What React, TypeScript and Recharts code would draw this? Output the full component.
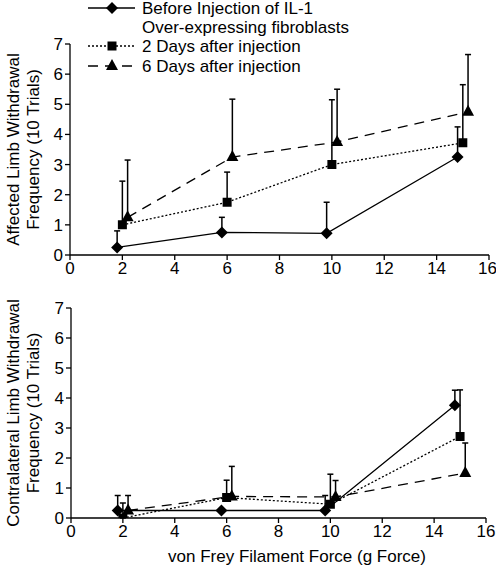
import { LineChart, Line, XAxis, YAxis, ErrorBar } from "recharts";

// x positions (g force), each series is offset a bit so the bars don't overlap
const forceBefore = [1.8, 5.8, 9.8, 14.8];
const force2Days = [2, 6, 10, 15];
const force6Days = [2.2, 6.2, 10.2, 15.2];

// affected limb: means and upper SD
const affectedBefore = [0.25, 0.75, 0.72, 3.25];
const affectedBeforeSd = [0.55, 0.5, 1.03, 1.0];
const affected2Days = [1.0, 1.75, 3.0, 3.72];
const affected2DaysSd = [1.45, 1.0, 2.15, 1.93];
const affected6Days = [1.25, 3.25, 3.75, 4.75];
const affected6DaysSd = [1.9, 1.92, 1.75, 1.9];

// contralateral limb
const contraBefore = [0.25, 0.25, 0.25, 3.76];
const contraBeforeSd = [0.5, 0, 0.5, 0.5];
const contra2Days = [0.0, 0.68, 0.46, 2.72];
const contra2DaysSd = [0.5, 0.58, 1.0, 1.55];
const contra6Days = [0.25, 0.72, 0.7, 1.5];
const contra6DaysSd = [0.5, 1.0, 0.55, 1.0];

const xTicks = [0, 2, 4, 6, 8, 10, 12, 14, 16];
const yTicks = [0, 1, 2, 3, 4, 5, 6, 7];

const legendLabels = [
  "Before Injection of IL-1",
  "Over-expressing fibroblasts",
  "2 Days after injection",
  "6 Days after injection",
];

const FONT = "'Liberation Sans', Arial, sans-serif";

const toRows = (xs: number[], ys: number[], sd: number[]) =>
  xs.map((x, i) => ({ x, y: ys[i], err: [0, sd[i]] }));

type Shape = "diamond" | "square" | "triangle";

const markerPath = (shape: Shape, cx: number, cy: number) => {
  if (shape === "diamond") {
    return `M${cx},${cy - 6}L${cx + 6},${cy}L${cx},${cy + 6}L${cx - 6},${cy}Z`;
  }
  if (shape === "square") {
    return `M${cx - 4.5},${cy - 4.5}h9v9h-9Z`;
  }
  return `M${cx},${cy - 7}L${cx + 6},${cy + 4}L${cx - 6},${cy + 4}Z`;
};

const makeDot = (shape: Shape) => (props: any) => {
  const { cx, cy, index } = props;
  if (cx == null || cy == null) return <g key={`d-${shape}-${index}`} />;
  return <path key={`d-${shape}-${index}`} d={markerPath(shape, cx, cy)} fill="#000" />;
};

const YLabel = (lines: string[]) => (props: any) => {
  const vb = props.viewBox || {};
  const cy = vb.y + vb.height / 2;
  const xs = [13, 33];
  return (
    <g>
      {lines.map((t, i) => (
        <text
          key={t}
          x={xs[i]}
          y={cy}
          transform={`rotate(-90, ${xs[i]}, ${cy})`}
          textAnchor="middle"
          dominantBaseline="central"
          fontSize={17}
          fontFamily={FONT}
          fill="#000">
          {t}
        </text>
      ))}
    </g>
  );
};

const Panel = ({
  before,
  twoDays,
  sixDays,
  labelLines,
  height,
  margin,
  showXLabel,
}: {
  before: { x: number; y: number; err: number[] }[];
  twoDays: { x: number; y: number; err: number[] }[];
  sixDays: { x: number; y: number; err: number[] }[];
  labelLines: string[];
  height: number;
  margin: { top: number; right: number; bottom: number; left: number };
  showXLabel: boolean;
}) => {
  const tickStyle = { fontSize: 17, fontFamily: FONT, fill: "#000" };
  const axisLine = { stroke: "#000", strokeWidth: 1.3 };
  return (
    <LineChart width={496} height={height} margin={margin}>
      <XAxis
        type="number"
        dataKey="x"
        domain={[0, 16]}
        ticks={xTicks}
        tick={tickStyle}
        tickSize={5}
        axisLine={axisLine}
        tickLine={axisLine}
        height={showXLabel ? 50 : 25}
        allowDuplicatedCategory={false}
        label={
          showXLabel
            ? (p: any) => (
                <text
                  x={297}
                  y={p.viewBox.y + 38}
                  textAnchor="middle"
                  dominantBaseline="central"
                  fontSize={17}
                  fontFamily={FONT}
                  fill="#000">
                  von Frey Filament Force (g Force)
                </text>
              )
            : undefined
        }
      />
      <YAxis
        type="number"
        domain={[0, 7]}
        ticks={yTicks}
        tick={tickStyle}
        tickSize={5}
        axisLine={axisLine}
        tickLine={axisLine}
        width={70}
        allowDataOverflow
        label={YLabel(labelLines)}
      />
      <Line
        data={before}
        dataKey="y"
        stroke="#000"
        strokeWidth={1.3}
        dot={makeDot("diamond")}
        activeDot={false}
        isAnimationActive={false}>
        <ErrorBar dataKey="err" direction="y" width={3} stroke="#000" strokeWidth={1.5} />
      </Line>
      <Line
        data={twoDays}
        dataKey="y"
        stroke="#000"
        strokeWidth={1.3}
        strokeDasharray="2 2"
        dot={makeDot("square")}
        activeDot={false}
        isAnimationActive={false}>
        <ErrorBar dataKey="err" direction="y" width={3} stroke="#000" strokeWidth={1.5} />
      </Line>
      <Line
        data={sixDays}
        dataKey="y"
        stroke="#000"
        strokeWidth={1.3}
        strokeDasharray="10 7"
        dot={makeDot("triangle")}
        activeDot={false}
        isAnimationActive={false}>
        <ErrorBar dataKey="err" direction="y" width={3} stroke="#000" strokeWidth={1.5} />
      </Line>
    </LineChart>
  );
};

const Legend = () => {
  const rows: { y: number; dash?: string; shape: Shape }[] = [
    { y: 8, shape: "diamond" },
    { y: 46, dash: "2 2", shape: "square" },
    { y: 66, dash: "10 7", shape: "triangle" },
  ];
  const textY = [8, 27, 46, 66];
  return (
    <svg
      width={496}
      height={80}
      style={{ position: "absolute", left: 0, top: 0, pointerEvents: "none" }}>
      {rows.map((r) => (
        <g key={r.shape}>
          <line x1={88} x2={135} y1={r.y} y2={r.y} stroke="#000" strokeWidth={1.3} strokeDasharray={r.dash} />
          <path d={markerPath(r.shape, 112, r.y)} fill="#000" />
        </g>
      ))}
      {legendLabels.map((t, i) => (
        <text
          key={t}
          x={142}
          y={textY[i]}
          dominantBaseline="central"
          fontSize={17}
          fontFamily={FONT}
          fill="#000">
          {t}
        </text>
      ))}
    </svg>
  );
};

export default function App() {
  return (
    <div
      style={{
        position: "absolute",
        left: 0,
        top: 0,
        width: 496,
        height: 568,
        background: "#fff",
      }}>
      <div style={{ position: "absolute", left: 0, top: 0 }}>
        <Panel
          before={toRows(forceBefore, affectedBefore, affectedBeforeSd)}
          twoDays={toRows(force2Days, affected2Days, affected2DaysSd)}
          sixDays={toRows(force6Days, affected6Days, affected6DaysSd)}
          labelLines={["Affected Limb Withdrawal", "Frequency (10 Trials)"]}
          height={280}
          margin={{ top: 44, right: 7, bottom: 0, left: 0 }}
          showXLabel={false}
        />
      </div>
      <div style={{ position: "absolute", left: 0, top: 280 }}>
        <Panel
          before={toRows(forceBefore, contraBefore, contraBeforeSd)}
          twoDays={toRows(force2Days, contra2Days, contra2DaysSd)}
          sixDays={toRows(force6Days, contra6Days, contra6DaysSd)}
          labelLines={["Contralateral Limb Withdrawal", "Frequency (10 Trials)"]}
          height={288}
          margin={{ top: 28, right: 10, bottom: 0, left: 1 }}
          showXLabel={true}
        />
      </div>
      <Legend />
    </div>
  );
}
